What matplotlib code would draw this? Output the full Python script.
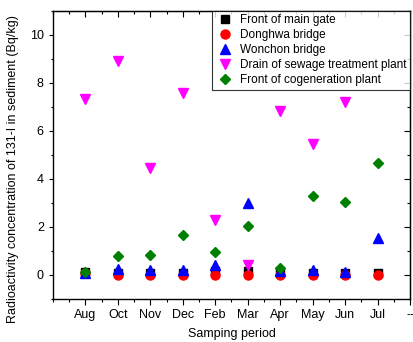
import matplotlib.pyplot as plt
from matplotlib.ticker import MultipleLocator
import numpy as np

plt.rcParams['font.family'] = ['Liberation Sans', 'DejaVu Sans']

months = ["Aug", "Oct", "Nov", "Dec", "Feb", "Mar", "Apr", "May", "Jun", "Jul"]
main_gate = [0.12, 0.1, 0.1, 0.1, 0.15, 0.17, 0.1, 0.1, 0.1, 0.1]
donghwa = [0.1, 0.0, 0.0, 0.0, 0.0, 0.0, 0.0, 0.0, 0.0, 0.0]
wonchon = [0.1, 0.25, 0.2, 0.2, 0.42, 3.0, 0.15, 0.22, 0.12, 1.55]
sewage = [7.35, 8.9, 4.45, 7.6, 2.3, 0.4, 6.85, 5.45, 7.2, np.nan]
cogen = [0.12, 0.77, 0.84, 1.67, 0.96, 2.02, 0.27, 3.27, 3.02, 4.68]

x = np.arange(1, len(months) + 1)

fig = plt.figure(figsize=(4.13, 3.42), dpi=100)
ax = fig.add_axes([0.128, 0.126, 0.865, 0.842])

ms = 6.5
ax.plot(x, main_gate, "s", color="black", ms=ms-0.5, label="Front of main gate")
ax.plot(x, donghwa, "o", color="red", ms=ms, label="Donghwa bridge")
ax.plot(x, wonchon, "^", color="blue", ms=ms+0.5, label="Wonchon bridge")
ax.plot(x, sewage, "v", color="magenta", ms=ms+0.5, label="Drain of sewage treatment plant")
ax.plot(x, cogen, "D", color="green", ms=ms-1, label="Front of cogeneration plant")

ax.set_xlim(0, 11)
ax.set_ylim(-1, 11)
ax.set_xticks(list(x) + [11])
ax.set_xticklabels(months + ["--"])
ax.xaxis.set_minor_locator(MultipleLocator(0.5))
ax.set_yticks([0, 2, 4, 6, 8, 10])
ax.yaxis.set_minor_locator(MultipleLocator(1))

ax.tick_params(which="both", direction="out", labelsize=9, top=False, right=False, width=0.8)
ax.tick_params(axis="x", which="major", length=4)
ax.tick_params(axis="x", which="minor", length=2.5)
ax.tick_params(axis="y", which="major", length=3)
ax.tick_params(axis="y", which="minor", length=1.5)

# mirrored inward ticks on top and right
ax_t = ax.secondary_xaxis("top")
ax_t.set_xticks(list(x) + [11])
ax_t.xaxis.set_minor_locator(MultipleLocator(0.5))
ax_t.tick_params(which="both", direction="in", labeltop=False, width=0.8)
ax_t.tick_params(which="major", length=4)
ax_t.tick_params(which="minor", length=2)
ax_r = ax.secondary_yaxis("right")
ax_r.yaxis.set_major_locator(MultipleLocator(2))
ax_r.yaxis.set_minor_locator(MultipleLocator(1))
ax_r.tick_params(which="both", direction="in", labelright=False, width=0.8)
ax_r.tick_params(which="major", length=4)
ax_r.tick_params(which="minor", length=2)

for sp in ax.spines.values():
    sp.set_linewidth(1.0)

ax.set_xlabel("Samping period", fontsize=9, labelpad=5)
ax.set_ylabel("Radioactivity concentration of 131-I in sediment (Bq/kg)", fontsize=9)
ax.yaxis.set_label_coords(-0.095, 0.45)

leg = ax.legend(loc="upper right", fontsize=8.5, frameon=True, fancybox=False,
                edgecolor="black", borderaxespad=0.0, handletextpad=0.5,
                labelspacing=0.25, borderpad=0.3, handlelength=1.6)
leg.get_frame().set_linewidth(0.8)

fig.savefig("out.png", dpi=100)
